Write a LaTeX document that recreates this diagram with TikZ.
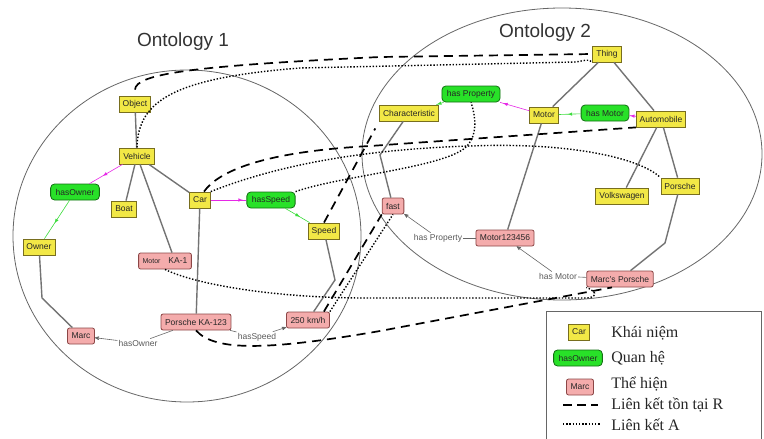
\documentclass[tikz,border=0pt]{standalone}
\usepackage{fontspec}
\setmainfont{Liberation Sans}
\newfontfamily\legendfont{Liberation Serif}
\usetikzlibrary{arrows, decorations.markings}
\definecolor{conceptfill}{RGB}{242,232,70}
\definecolor{conceptline}{RGB}{120,110,30}
\definecolor{relfill}{RGB}{40,225,40}
\definecolor{relline}{RGB}{20,110,20}
\definecolor{instfill}{RGB}{244,172,172}
\definecolor{instline}{RGB}{140,70,70}
\definecolor{isaline}{RGB}{115,115,115}
\definecolor{domcolor}{RGB}{230,40,230}
\definecolor{rancolor}{RGB}{60,220,60}
\tikzset{
    concept/.style={
           rectangle,
           fill=conceptfill, draw=conceptline, thick,
           minimum height=16pt,
           inner xsep=3.5pt, inner ysep=2pt,
           font=\fontsize{8.5}{10}\selectfont, text=black!85,
           },
    relation/.style={concept, fill=relfill, draw=relline, rounded corners=4pt, inner xsep=5pt},
    instance/.style={concept, fill=instfill, draw=instline, rounded corners=2pt, inner xsep=4pt},
    isa/.style={draw=isaline, line width=1.4pt},
    slot/.style={draw=black!60, semithick},
    lbl/.style={font=\fontsize{8.5}{10}\selectfont, text=black!65, inner sep=1pt},
    title/.style={font=\fontsize{19}{22}\selectfont, text=black!80},
    legendtext/.style={anchor=west, font=\legendfont\fontsize{16}{18}\selectfont, text=black!85, inner sep=0pt},
    domainarrow/.style={draw=domcolor, semithick, postaction=decorate,
           decoration={markings, mark=at position #1 with {\arrow[domcolor]{latex}}}},
    domainarrow/.default=0.6,
    rangearrow/.style={draw=rancolor, semithick, postaction=decorate,
           decoration={markings, mark=at position #1 with {\arrow[rancolor]{latex}}}},
    rangearrow/.default=0.6,
    rlink/.style={draw=black, line width=1.7pt, dash pattern=on 9pt off 6pt},
    alink/.style={draw=black, line width=1.4pt, dash pattern=on 1.4pt off 1.8pt},
    ontology/.style={draw=black!60, thick},
}

\begin{document}
\begin{tikzpicture}[>=stealth', x=1pt, y=-1pt, semithick]
  \useasboundingbox (0,0) rectangle (764,439);
  \draw[ontology] (187,236) ellipse [x radius=174pt, y radius=166pt];
  \draw[ontology] (562,154) ellipse [x radius=200pt, y radius=146pt];
  \node[title] (title1) at (183,42) {Ontology 1};
  \node[title] (title2) at (545,33) {Ontology 2};

  \node[concept]  (Object)         at (135,104) {Object};
  \node[concept]  (Vehicle)        at (137,156) {Vehicle};
  \node[relation] (hasOwner)       at (75,192)  {hasOwner};
  \node[concept]  (Boat)           at (124,209) {Boat};
  \node[concept]  (Car)            at (200,200) {Car};
  \node[relation] (hasSpeed)       at (271,200) {hasSpeed};
  \node[concept]  (Owner)          at (39,247)  {Owner};
  \node[concept]  (Speed)          at (324,231) {Speed};
  \node[instance] (MotorKA)        at (165,261) {{\fontsize{7}{8}\selectfont Motor}\hspace{8pt}KA-1};
  \node[instance] (KA123)          at (196,322) {Porsche KA-123};
  \node[instance] (Marc)           at (81,336)  {Marc};
  \node[instance] (kmh)            at (308,320) {250 km/h};

  \node[concept]  (Thing)          at (607,54)  {Thing};
  \node[relation] (hasProperty)    at (471,94)  {has Property};
  \node[concept]  (Characteristic) at (409,113) {Characteristic};
  \node[concept]  (Motor)          at (544,115) {Motor};
  \node[relation] (hasMotor)       at (605,113) {has Motor};
  \node[concept]  (Automobile)     at (661,119) {Automobile};
  \node[concept]  (Volkswagen)     at (622,196) {Volkswagen};
  \node[concept]  (Porsche)        at (680,186) {Porsche};
  \node[instance] (fast)           at (393,206) {fast};
  \node[instance] (MotorN)         at (505,238) {Motor123456};
  \node[instance] (MarcsPorsche)   at (620,279) {Marc's Porsche};

  \node[lbl] (ownerlbl) at (138,343) {hasOwner};
  \node[lbl] (speedlbl) at (257,337) {hasSpeed};
  \node[lbl] (proplbl)  at (438,238) {has Property};
  \node[lbl] (motorlbl) at (558,276) {has Motor};

  \draw[isa] (Object) -- (Vehicle);
  \draw[isa] (Vehicle) -- (Boat);
  \draw[isa] (Vehicle) -- (Car);
  \draw[isa] (Vehicle) -- ([xshift=7pt]MotorKA.north);
  \draw[isa] (Car) -- (KA123);
  \draw[isa] (Owner) -- (42,298) -- (Marc);
  \draw[isa] (Speed) -- (335,280) -- (kmh);
  \draw[isa] (Thing) -- (Motor);
  \draw[isa] (Thing) -- (Automobile);
  \draw[isa] (Characteristic) -- (380,155) -- (fast);
  \draw[isa] (Motor) -- (MotorN);
  \draw[isa] (Automobile) -- (Volkswagen);
  \draw[isa] (Automobile) -- (Porsche);
  \draw[isa] (Porsche) -- (665,243) -- (MarcsPorsche);

  \draw[domainarrow] (Vehicle) -- (hasOwner);
  \draw[rangearrow] (hasOwner) -- (Owner);
  \draw[domainarrow=0.9] (Car) -- (hasSpeed);
  \draw[rangearrow] (hasSpeed) -- (Speed);
  \draw[domainarrow=0.9] (Motor) -- (hasProperty);
  \draw[rangearrow=0.95] (hasProperty) -- (Characteristic);
  \draw[domainarrow=0.9] (Automobile) -- (hasMotor);
  \draw[rangearrow] (hasMotor) -- (Motor);

  \draw[slot] (KA123) -- (ownerlbl);
  \draw[slot,->] (ownerlbl) -- (Marc);
  \draw[slot] (KA123) -- (speedlbl);
  \draw[slot,->] (speedlbl) -- (kmh);
  \draw[slot] (MotorN) -- (proplbl);
  \draw[slot,->] (proplbl) -- (fast);
  \draw[slot] (MarcsPorsche) -- (motorlbl);
  \draw[slot,->] (motorlbl) -- (MotorN);

  \draw[rlink] ([yshift=6pt]Object.north) .. controls (136,74) and (190,66) .. (380,57) -- (Thing.west);
  \draw[alink] (Vehicle.north) .. controls (138,100) and (175,78) .. (300,68) -- (575,62) .. controls (585,61) and (588,58) .. (Thing.south west);
  \draw[rlink] ([xshift=4pt]Car.north) .. controls (218,172) and (260,152) .. (370,146) -- (Automobile.south west);
  \draw[alink] (Car.north east) .. controls (260,172) and (340,150) .. (470,146) .. controls (570,142) and (640,158) .. (Porsche.north west);
  \draw[alink] (hasSpeed.north east) .. controls (340,176) and (440,168) .. (465,148) .. controls (478,136) and (476,118) .. (hasProperty.south);
  \draw[rlink, shorten >=8pt] (Speed.north) -- (Characteristic.south west);
  \draw[rlink] ([xshift=-6pt]kmh.north east) -- (fast.south west);
  \draw[alink] (kmh.north east) -- (fast.south);
  \draw[alink] (MotorKA.south) .. controls (190,282) and (260,297) .. (360,298) -- (585,298) .. controls (595,298) and (600,293) .. (MarcsPorsche.south west);
  \draw[rlink] (KA123.south) .. controls (215,352) and (270,350) .. (380,331) -- ([xshift=-8pt]MarcsPorsche.south);

  \draw[draw=black!60, thick] (546,441) -- (546,311) -- (761,311) -- (761,441);
  \node[concept]  (lgConcept)  at (579,332) {Car};
  \node[relation] (lgRelation) at (578,358) {hasOwner};
  \node[instance] (lgInstance) at (580,387) {Marc};
  \coordinate (lgR1) at (563,405);
  \coordinate (lgR2) at (598,405);
  \coordinate (lgA1) at (563,424);
  \coordinate (lgA2) at (600,424);
  \draw[rlink, line width=2pt, dash pattern=on 9pt off 5pt] (lgR1) -- (lgR2);
  \draw[alink] (lgA1) -- (lgA2);
  \node[legendtext] (lgText1) at (611,333) {Khái niệm};
  \node[legendtext] (lgText2) at (611,358) {Quan hệ};
  \node[legendtext] (lgText3) at (611,384) {Thể hiện};
  \node[legendtext] (lgText4) at (611,405) {Liên kết tồn tại R};
  \node[legendtext] (lgText5) at (611,425) {Liên kết A};
\end{tikzpicture}
\end{document}
